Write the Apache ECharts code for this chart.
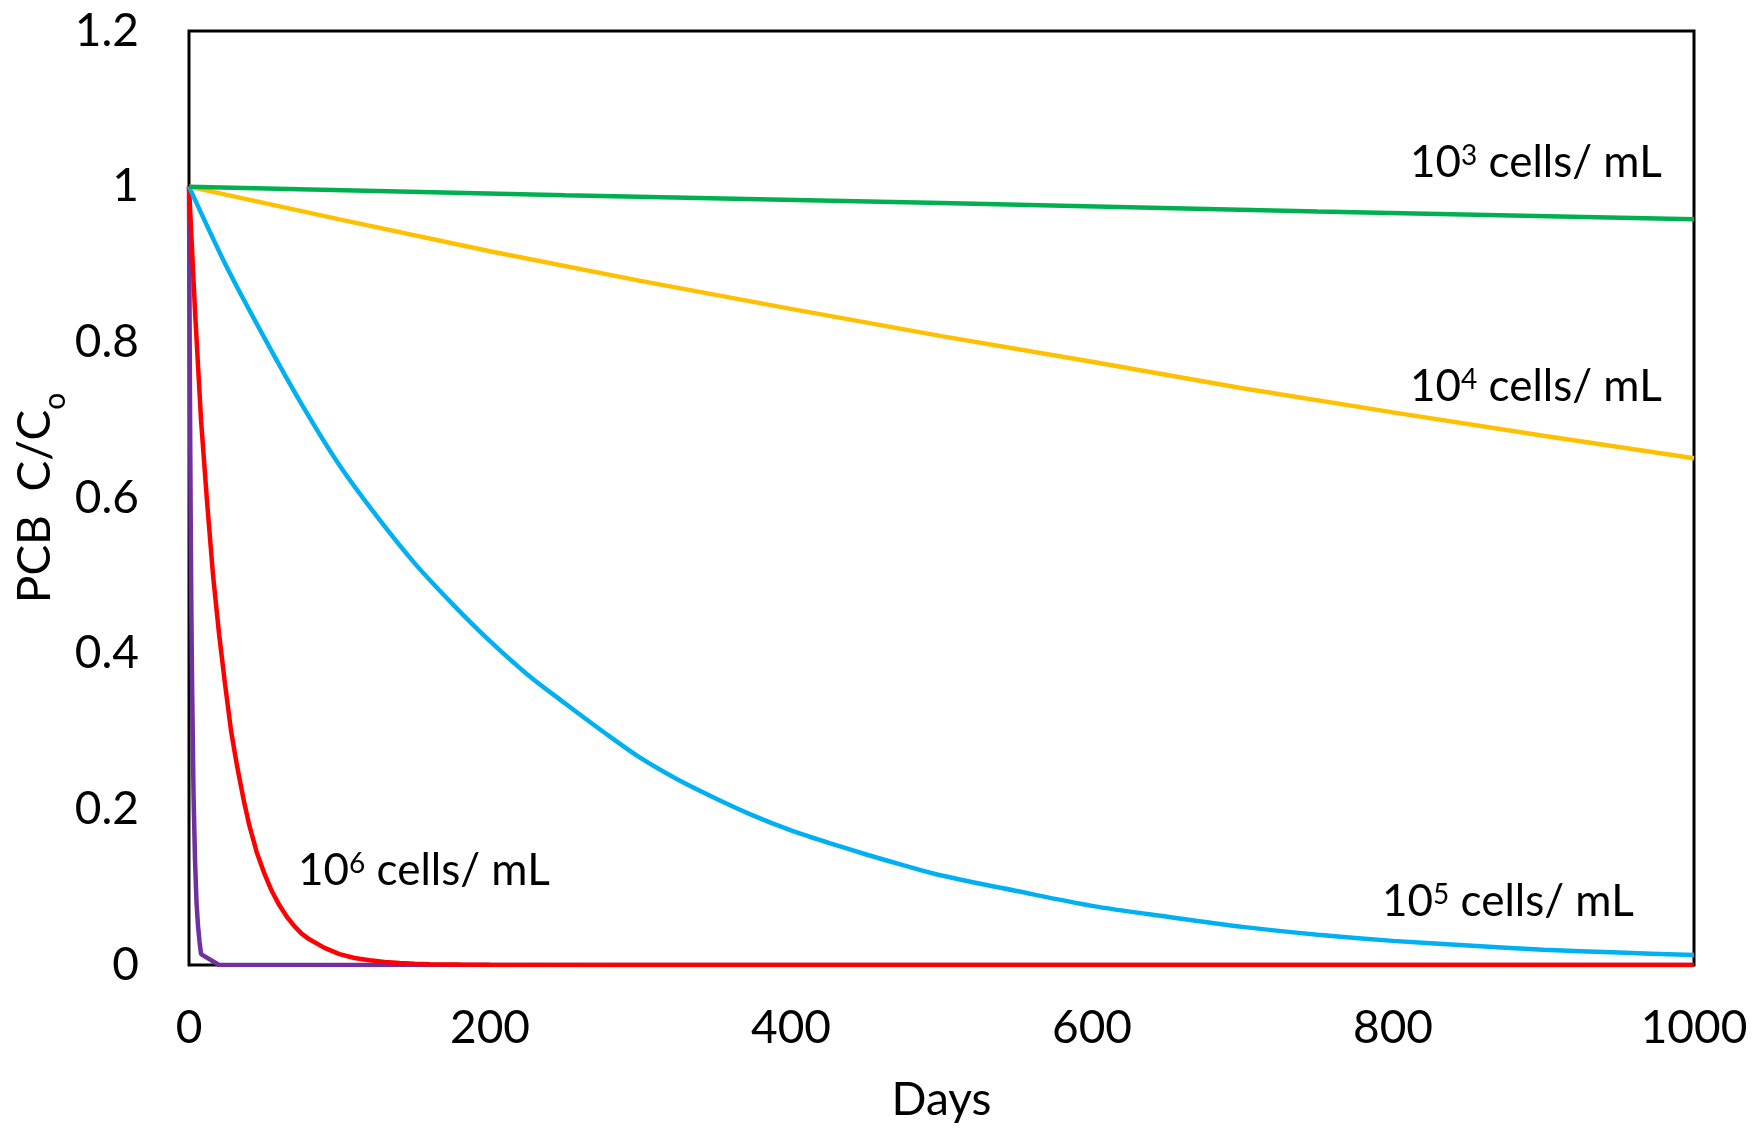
<!DOCTYPE html>
<html>
<head>
    <meta charset="utf-8">
    <title>PCB C/Co</title>
    <style>
        html, body { margin: 0; padding: 0; background: #fff; }
        #main { width: 1762px; height: 1136px; }
    </style>
</head>
<body>
    <div id="main"></div>
    <script src="https://cdn.jsdelivr.net/npm/echarts@6/dist/echarts.min.js"></script>
    <script>
    // 读图得到的数据 (Days, C/Co)
    var purpleDays = [0, 0.5, 1, 1.5, 2, 3, 4, 5, 6, 7, 8, 20, 100, 200, 400, 600, 800, 1000];
    var purpleVals = [1, 0.78, 0.61, 0.47, 0.37, 0.22, 0.135, 0.08, 0.05, 0.03, 0.014, 0, 0, 0, 0, 0, 0, 0];

    var redDays = [0, 4, 8, 12, 16, 20, 24, 28, 32, 36, 40, 45, 50, 55, 60, 65, 70, 75, 80, 90, 100, 110, 120, 130, 140, 150, 160, 180, 200, 300, 500, 700, 1000];
    var redVals = [1, 0.84, 0.7, 0.595, 0.5, 0.425, 0.36, 0.3, 0.255, 0.215, 0.18, 0.145, 0.118, 0.095, 0.077, 0.062, 0.05, 0.04, 0.033, 0.022, 0.014, 0.009, 0.006, 0.004, 0.0025, 0.0017, 0.001, 0.0005, 0.0002, 0, 0, 0, 0];

    var blueDays = [0, 25, 50, 75, 100, 125, 150, 175, 200, 225, 250, 275, 300, 325, 350, 375, 400, 425, 450, 475, 500, 550, 600, 650, 700, 750, 800, 850, 900, 950, 1000];
    var blueVals = [1, 0.897, 0.806, 0.72, 0.642, 0.576, 0.516, 0.464, 0.416, 0.373, 0.336, 0.300, 0.266, 0.238, 0.214, 0.192, 0.173, 0.157, 0.142, 0.128, 0.115, 0.095, 0.076, 0.062, 0.049, 0.039, 0.031, 0.025, 0.0195, 0.016, 0.0128];

    var yellowDays = [0, 100, 200, 300, 400, 500, 600, 700, 800, 900, 1000];
    var yellowVals = [1, 0.958, 0.917, 0.879, 0.843, 0.808, 0.775, 0.741, 0.71, 0.68, 0.651];

    var greenDays = [0, 250, 500, 750, 1000];
    var greenVals = [1, 0.989, 0.979, 0.968, 0.958];

    var yTicks = [0, 0.2, 0.4, 0.6, 0.8, 1, 1.2];
    var xTicks = [0, 200, 400, 600, 800, 1000];

    var labelExp = ['3', '4', '5', '6'];

    function pairs(xs, ys) {
        var out = [];
        for (var i = 0; i < xs.length; i++) {
            out.push([xs[i], ys[i]]);
        }
        return out;
    }

    var FONT = 'Lato';

    function lineSeries(name, color, xs, ys, smooth) {
        return {
            name: name,
            type: 'line',
            showSymbol: false,
            symbol: 'none',
            smooth: smooth || false,
            animation: false,
            data: pairs(xs, ys),
            lineStyle: { color: color, width: 4.5 },
            itemStyle: { color: color }
        };
    }

    // 注释文字
    function cellLabel(exp, x, y) {
        return {
            type: 'text',
            x: x,
            y: y,
            style: {
                text: '{b|10}{s|' + exp + '}{b| cells/ mL}',
                verticalAlign: 'middle',
                align: 'left',
                fill: '#000',
                rich: {
                    b: { fontSize: 44, fontFamily: FONT, lineHeight: 52, color: '#000' },
                    s: { fontSize: 28, fontFamily: FONT, lineHeight: 28, padding: [0, 0, 14, 0], color: '#000' }
                }
            }
        };
    }

    var myChart = echarts.init(document.getElementById('main'));

    var option = {
        backgroundColor: '#fff',
        animation: false,
        grid: {
            left: 189,
            right: 68,
            top: 31,
            bottom: 171,
            outerBoundsMode: 'none',
            containLabel: false,
            show: true,
            borderColor: '#000',
            borderWidth: 3,
            backgroundColor: 'transparent'
        },
        xAxis: {
            type: 'value',
            min: xTicks[0],
            max: xTicks[xTicks.length - 1],
            interval: 200,
            name: 'Days',
            nameLocation: 'middle',
            nameGap: 112,
            nameMoveOverlap: false,
            nameTextStyle: { fontSize: 46, fontFamily: FONT, color: '#000' },
            axisLine: { show: false },
            axisTick: { show: false },
            splitLine: { show: false },
            axisLabel: {
                fontSize: 46,
                fontFamily: FONT,
                color: '#000',
                margin: 40,
                formatter: function(v) { return String(v); }
            }
        },
        yAxis: {
            type: 'value',
            min: yTicks[0],
            max: yTicks[yTicks.length - 1],
            interval: 0.2,
            name: '{m|PCB  C/C}{o|o}',
            nameLocation: 'middle',
            nameRotate: 90,
            nameGap: 126,
            nameMoveOverlap: false,
            nameTextStyle: {
                color: '#000',
                rich: {
                    m: { fontSize: 46, fontFamily: FONT, lineHeight: 56, color: '#000' },
                    o: { fontSize: 30, fontFamily: FONT, lineHeight: 30, padding: [40, 0, 0, 0], color: '#000' }
                }
            },
            axisLine: { show: false },
            axisTick: { show: false },
            splitLine: { show: false },
            axisLabel: {
                fontSize: 46,
                fontFamily: FONT,
                color: '#000',
                margin: 50,
                formatter: function(v) { return String(Math.round(v * 10) / 10); }
            }
        },
        series: [
            lineSeries('1e7', '#7030A0', purpleDays, purpleVals, false),
            lineSeries('1e6', '#FF0000', redDays, redVals, false),
            lineSeries('1e5', '#00B0F0', blueDays, blueVals, 0.3),
            lineSeries('1e4', '#FFC000', yellowDays, yellowVals, false),
            lineSeries('1e3', '#00B050', greenDays, greenVals, false)
        ],
        graphic: [
            cellLabel(labelExp[0], 1410, 163),
            cellLabel(labelExp[1], 1410, 387),
            cellLabel(labelExp[2], 1382, 902),
            cellLabel(labelExp[3], 298, 871)
        ]
    };

    myChart.setOption(option);
    </script>
</body>
</html>
